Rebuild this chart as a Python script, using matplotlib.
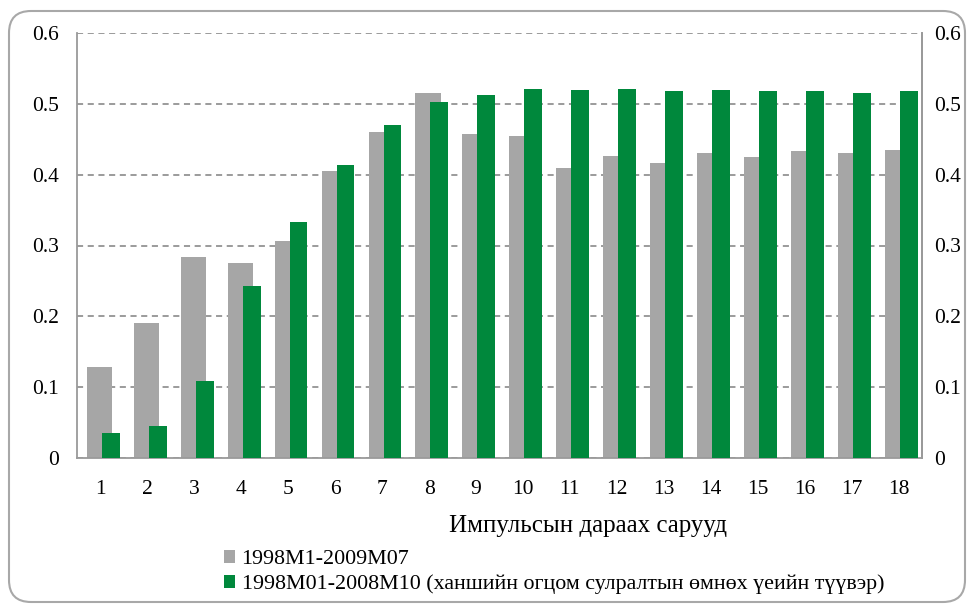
import matplotlib
matplotlib.use("Agg")
import matplotlib.pyplot as plt
import numpy as np
from matplotlib.patches import FancyBboxPatch

plt.rcParams['font.family'] = ['Liberation Serif', 'DejaVu Serif']

categories = [str(i) for i in range(1, 19)]
series_gray = [0.128, 0.190, 0.284, 0.275, 0.307, 0.405, 0.460, 0.515, 0.458,
               0.454, 0.409, 0.427, 0.417, 0.430, 0.425, 0.433, 0.430, 0.435]
series_green = [0.036, 0.045, 0.109, 0.243, 0.333, 0.413, 0.470, 0.502, 0.513,
                0.521, 0.520, 0.521, 0.518, 0.520, 0.518, 0.518, 0.515, 0.518]
label_gray = "1998M1-2009M07"
label_green = "1998M01-2008M10 (ханшийн огцом сулралтын өмнөх үеийн түүвэр)"
xlabel = "Импульсын дараах сарууд"
yticks = [0, 0.1, 0.2, 0.3, 0.4, 0.5, 0.6]
ytick_labels = ["0", "0.1", "0.2", "0.3", "0.4", "0.5", "0.6"]

GRAY = '#a6a6a6'
GREEN = '#00883c'
AX_COL = '#9a9a9a'
FS = 15.5

W, H = 974, 605
fig = plt.figure(figsize=(W / 100, H / 100), dpi=100)
fig.patch.set_facecolor('white')

# rounded frame
frame = FancyBboxPatch((9, 3), W - 18, H - 14, boxstyle="round,pad=0,rounding_size=22",
                       transform=None, facecolor='none', edgecolor='#a8a8a8', linewidth=1.5)
fig.patches.append(frame)

ax = fig.add_axes([77 / W, (H - 458) / H, 845 / W, 425 / H])
x = np.arange(1, len(categories) + 1)
b1 = ax.bar(x - 0.02, series_gray, width=0.54, color=GRAY, zorder=2, label=label_gray)
b2 = ax.bar(x + 0.22, series_green, width=0.38, color=GREEN, zorder=3, label=label_green)

ax.set_xlim(0.5, 18.5)
ax.set_ylim(0, 0.6)
ax.set_yticks(yticks)
ax.set_yticklabels(ytick_labels, fontsize=FS)
ax.set_xticks(x)
ax.set_xticklabels(categories, fontsize=FS)
ax.tick_params(axis='y', length=0, pad=13)
ax.tick_params(axis='x', length=0, pad=16)
ax.yaxis.grid(True, linestyle=(0, (4, 3)), color='#808080', linewidth=1.1, zorder=1)
ax.set_axisbelow(True)
for s in ['top']:
    ax.spines[s].set_visible(False)
for s in ['left', 'bottom', 'right']:
    ax.spines[s].set_color(AX_COL)
    ax.spines[s].set_linewidth(1.3)

ax2 = ax.twinx()
ax2.set_ylim(0, 0.6)
ax2.set_yticks(yticks)
ax2.set_yticklabels(ytick_labels, fontsize=FS)
ax2.tick_params(axis='y', length=0, pad=9)
for s in ['top', 'left', 'bottom']:
    ax2.spines[s].set_visible(False)
ax2.spines['right'].set_color(AX_COL)
ax2.spines['right'].set_linewidth(1.3)

fig.text(588 / W, 1 - 526 / H, xlabel, ha='center', va='center', fontsize=18)

fig.legend(handles=[b1, b2], loc='upper left', bbox_to_anchor=(224 / W, 1 - 550 / H),
           frameon=False, fontsize=15.8, handlelength=0.5, handleheight=0.5,
           handletextpad=0.3, labelspacing=0.25, borderpad=0, borderaxespad=0)

fig.savefig('out.png', dpi=100)
